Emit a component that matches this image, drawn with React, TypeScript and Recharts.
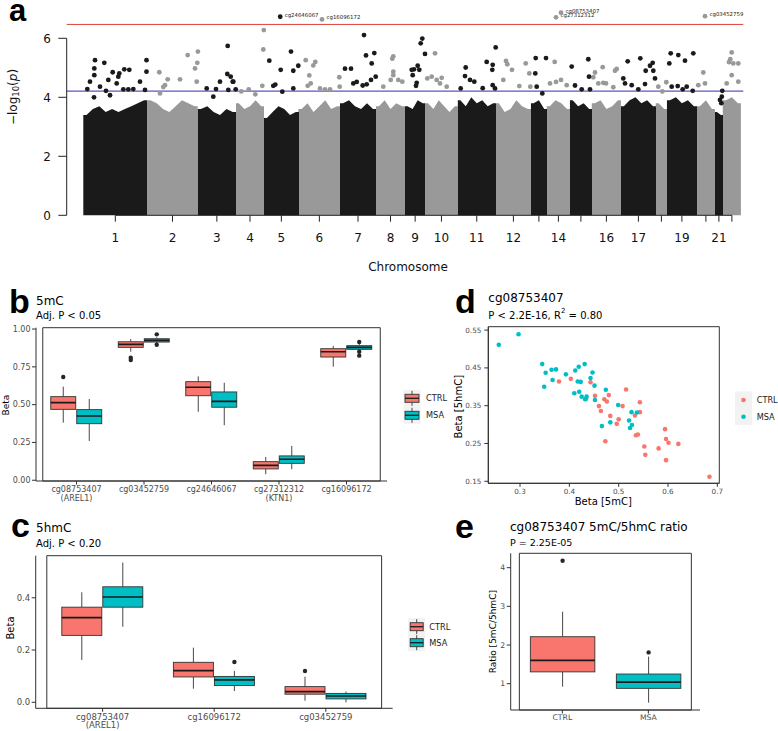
import React from "react";
import {
  ComposedChart,
  Area,
  Scatter,
  ScatterChart,
  BarChart,
  Bar,
  XAxis,
  YAxis,
  ReferenceLine,
  ReferenceArea,
} from "recharts";

// ---------- panel a: Manhattan plot ----------
const chromosomes = [1, 2, 3, 4, 5, 6, 7, 8, 9, 10, 11, 12, 13, 14, 15, 16, 17, 18, 19, 20, 21, 22];
// relative probe span of every chromosome on the concatenated axis
const chromSizes = [64, 50.4, 38.3, 28, 34.7, 41.3, 36, 29, 20.3, 32.3, 38.3, 35, 16, 23, 22, 29, 35, 11, 30, 18, 8, 18];
const labelledChroms = [1, 2, 3, 4, 5, 6, 7, 8, 9, 10, 11, 12, 14, 16, 17, 19, 21];
// upper edge of the dense cloud of probes, read along each chromosome
const bodyTops = [
  [3.4, 3.6, 3.7, 3.5, 3.6, 3.5, 3.6, 3.7, 3.8, 3.9],
  [3.9, 3.8, 3.6, 3.5, 3.7, 3.9, 3.8, 3.7],
  [3.6, 3.7, 3.5, 3.4, 3.6, 3.5],
  [3.8, 3.6, 3.7, 3.9, 3.7],
  [3.3, 3.5, 3.7, 3.6, 3.4, 3.5],
  [3.6, 3.8, 3.5, 3.7, 3.9, 3.6, 3.7],
  [3.8, 3.9, 3.7, 3.6, 3.8, 3.6],
  [3.7, 3.9, 3.6, 3.8, 3.7],
  [3.7, 3.6, 3.9, 3.8],
  [3.8, 3.6, 3.9, 3.7, 3.5, 3.7],
  [3.9, 3.7, 4.0, 3.8, 3.9, 3.7, 3.8],
  [3.8, 3.5, 3.6, 3.9, 3.7, 3.6],
  [3.8, 3.9, 3.6],
  [3.7, 3.9, 3.8, 3.6],
  [3.9, 3.7, 3.8, 3.6],
  [3.8, 3.9, 3.6, 3.7, 3.9],
  [3.7, 3.9, 4.0, 3.8, 3.9, 3.7],
  [3.8, 3.6],
  [3.9, 4.0, 3.8, 3.9, 3.7],
  [3.7, 3.9, 3.6],
  [3.5, 3.4],
  [3.9, 4.0, 3.8],
];
// [chromosome, position on genome axis, -log10(p)]
const topHits = [
  [1, 4, 4.28], [1, 6.7, 4.53], [1, 11.7, 5.26], [1, 11, 4.98], [1, 11, 4.75], [1, 21, 5.17], [1, 25, 4.59],
  [1, 29.4, 4.85], [1, 33.4, 4.47], [1, 35, 4.7], [1, 36, 4.81], [1, 41, 4.95], [1, 46, 4.93], [1, 63.2, 5.26],
  [1, 63.2, 4.87], [1, 56.7, 4.53], [1, 16.7, 4.36], [1, 40, 4.27], [1, 45, 4.27], [1, 50, 4.28], [1, 61.7, 4.25],
  [1, 22.7, 4.22], [1, 26.7, 4.07], [1, 10.7, 4.0],
  [2, 76, 4.85], [2, 84.4, 4.61], [2, 96.7, 4.61], [2, 104.4, 5.43], [2, 114.6, 5.55], [2, 114, 5.17],
  [2, 111.7, 4.98], [2, 113.4, 4.53], [2, 76.7, 4.13], [2, 81.7, 4.41], [2, 80, 4.35],
  [3, 144.4, 5.74], [3, 144, 4.79], [3, 147.4, 4.7], [3, 149.4, 4.53], [3, 136.7, 4.53], [3, 132.7, 4.28],
  [3, 150, 4.53], [3, 152.4, 4.27], [3, 123.4, 4.3], [3, 145, 4.25], [3, 130, 4.02],
  [4, 179, 4.39], [4, 165.4, 4.27], [4, 180.5, 6.28], [4, 180, 5.62], [4, 158, 4.2], [4, 172, 4.1],
  [5, 186, 5.24], [5, 207.7, 5.55], [5, 197.4, 4.93], [5, 210, 4.9], [5, 215, 5.07], [5, 210, 4.3],
  [5, 190, 4.39], [5, 192, 4.43], [5, 199, 4.19],
  [6, 222.4, 5.26], [6, 232, 5.2], [6, 230, 5.08], [6, 226, 4.74], [6, 227.4, 4.47], [6, 224.4, 4.39],
  [6, 236.7, 4.3], [6, 241.7, 4.27], [6, 246.7, 4.27], [6, 256, 4.68], [6, 256.4, 4.36],
  [7, 280.7, 6.11], [7, 282.7, 5.42], [7, 291, 5.5], [7, 288.4, 5.15], [7, 261.7, 4.97], [7, 267.7, 4.97],
  [7, 292.4, 4.7], [7, 287.7, 4.59], [7, 270, 4.47], [7, 273.4, 4.52], [7, 279.4, 4.4], [7, 283.4, 4.44],
  [8, 310, 5.39], [8, 309, 5.31], [8, 310, 4.87], [8, 310, 4.75], [8, 307.4, 4.59], [8, 315, 4.59],
  [8, 319, 4.53], [8, 300, 4.36],
  [9, 339, 5.99], [9, 337.4, 5.83], [9, 341.7, 5.47], [9, 334.4, 5.07], [9, 330.7, 4.95], [9, 328.4, 4.93],
  [9, 336, 4.93], [9, 329.4, 4.75], [9, 333.4, 4.49], [9, 332.7, 4.39],
  [10, 351.7, 5.49], [10, 348.4, 4.7], [10, 353.4, 4.59], [10, 358.4, 4.66], [10, 356.7, 4.47],
  [10, 363.4, 4.36], [10, 344, 4.64],
  [11, 382.4, 5.01], [11, 381.7, 4.72], [11, 386.7, 4.59], [11, 377.4, 4.3], [11, 412.4, 5.69],
  [11, 403.4, 5.2], [11, 409.4, 5.1], [11, 409, 4.93], [11, 391, 4.53], [11, 399.4, 4.31], [11, 409.4, 4.41],
  [11, 411.7, 4.3],
  [12, 422.7, 5.23], [12, 424, 5.12], [12, 428.7, 4.93], [12, 442.4, 5.15], [12, 446, 4.81], [12, 436, 4.38],
  [12, 420, 4.59], [12, 447, 4.36],
  [13, 452.4, 5.33], [13, 462.7, 5.33], [13, 452, 4.81], [13, 453.4, 4.36], [13, 459, 4.13],
  [14, 471.4, 5.2], [14, 466.7, 4.47], [14, 472.7, 4.52], [14, 477.7, 4.59], [14, 483.4, 4.41],
  [15, 488.4, 5.04], [15, 505, 5.29], [15, 505.7, 4.7], [15, 491.7, 4.4], [15, 498.4, 4.27], [15, 506.7, 4.27],
  [16, 511.7, 4.84], [16, 515, 4.47], [16, 520, 4.49], [16, 519.4, 5.02], [16, 531.7, 4.9], [16, 533.4, 4.96],
  [16, 510, 4.68], [16, 522.7, 4.47], [16, 530, 4.34],
  [17, 544.4, 5.22], [17, 557, 5.32], [17, 569.4, 5.17], [17, 566.7, 5.07], [17, 562.4, 4.9], [17, 570, 4.9],
  [17, 540, 4.64], [17, 571.7, 4.64], [17, 541.7, 4.47], [17, 548.4, 4.41], [17, 561.7, 4.45], [17, 555, 4.27],
  [18, 583, 4.51], [18, 575, 4.36], [18, 579, 4.2],
  [19, 587.4, 5.49], [19, 595, 5.43], [19, 610, 5.49], [19, 586, 5.15], [19, 601.7, 5.24], [19, 588.4, 4.36],
  [19, 594.4, 4.38], [19, 599.4, 4.27], [19, 603.4, 4.36], [19, 609.4, 4.22],
  [20, 620, 4.84], [20, 615, 4.41], [20, 621.7, 4.47],
  [21, 638.5, 4.02], [21, 636.7, 3.91], [21, 639, 4.22], [21, 638, 3.8],
  [22, 648.4, 5.52], [22, 647, 5.29], [22, 650, 5.15], [22, 648.4, 4.75], [22, 643.4, 4.47], [22, 655, 4.53],
  [22, 645.7, 5.19], [22, 655, 5.15],
];
const annotatedHits = [
  { name: "cg24646067", chr: 5, pos: 196.9, p: 6.73 },
  { name: "cg16096172", chr: 6, pos: 238.7, p: 6.64 },
  { name: "cg27312312", chr: 14, pos: 472.7, p: 6.71 },
  { name: "cg08753407", chr: 14, pos: 477.7, p: 6.87 },
  { name: "cg03452759", chr: 20, pos: 621.7, p: 6.75 },
];
const genomeWideLine = 6.47;
const suggestiveLine = 4.21;

// ---------- panel b: 5mC boxplots [min, q1, median, q3, max] ----------
const probes5mC = ["cg08753407", "cg03452759", "cg24646067", "cg27312312", "cg16096172"];
const genes5mC = ["AREL1", "", "", "KTN1", ""];
const ctrl5mC = [
  [0.381, 0.469, 0.513, 0.553, 0.619],
  [0.85, 0.879, 0.899, 0.916, 0.934],
  [0.453, 0.559, 0.615, 0.652, 0.687],
  [0.04, 0.075, 0.099, 0.123, 0.154],
  [0.751, 0.815, 0.85, 0.87, 0.888],
];
const msa5mC = [
  [0.26, 0.374, 0.425, 0.467, 0.537],
  [0.905, 0.914, 0.925, 0.936, 0.945],
  [0.364, 0.483, 0.522, 0.584, 0.645],
  [0.073, 0.112, 0.139, 0.161, 0.227],
  [0.857, 0.866, 0.879, 0.89, 0.9],
];
const ctrl5mCOutliers = [[0.683], [0.81, 0.795], [], [], []];
const msa5mCOutliers = [[], [0.965, 0.896], [], [], [0.914, 0.85, 0.824]];

// ---------- panel c: 5hmC boxplots ----------
const probes5hmC = ["cg08753407", "cg16096172", "cg03452759"];
const genes5hmC = ["AREL1", "", ""];
const ctrl5hmC = [
  [0.162, 0.256, 0.324, 0.364, 0.421],
  [0.052, 0.097, 0.121, 0.153, 0.209],
  [0.006, 0.031, 0.041, 0.06, 0.098],
];
const msa5hmC = [
  [0.289, 0.364, 0.403, 0.442, 0.535],
  [0.043, 0.064, 0.086, 0.099, 0.12],
  [0.0, 0.013, 0.024, 0.034, 0.041],
];
const ctrl5hmCOutliers = [[], [], [0.12]];
const msa5hmCOutliers = [[], [0.154], []];

// ---------- panel d: cg08753407 5mC vs 5hmC ----------
const ctrlBeta5mC = [0.379, 0.403, 0.443, 0.434, 0.452, 0.46, 0.464, 0.471, 0.476, 0.48, 0.483, 0.5, 0.496, 0.508, 0.515,
  0.473, 0.543, 0.543, 0.533, 0.535, 0.539, 0.552, 0.554, 0.581, 0.594, 0.596, 0.601, 0.596, 0.621, 0.684];
const ctrlBeta5hmC = [0.414, 0.421, 0.412, 0.368, 0.376, 0.349, 0.336, 0.367, 0.361, 0.378, 0.323, 0.314, 0.302, 0.349, 0.393,
  0.256, 0.359, 0.333, 0.324, 0.272, 0.274, 0.242, 0.22, 0.237, 0.288, 0.262, 0.252, 0.206, 0.249, 0.162];
const msaBeta5mC = [0.257, 0.297, 0.345, 0.352, 0.349, 0.364, 0.373, 0.366, 0.393, 0.412, 0.419, 0.431, 0.417, 0.423, 0.41, 0.42,
  0.425, 0.435, 0.432, 0.443, 0.447, 0.451, 0.452, 0.474, 0.466, 0.483, 0.499, 0.526, 0.537, 0.521, 0.527, 0.523];
const msaBeta5hmC = [0.511, 0.539, 0.46, 0.437, 0.4, 0.445, 0.446, 0.418, 0.433, 0.443, 0.453, 0.46, 0.414, 0.413, 0.383, 0.387,
  0.374, 0.374, 0.367, 0.423, 0.438, 0.403, 0.365, 0.392, 0.296, 0.306, 0.352, 0.333, 0.332, 0.311, 0.299, 0.291];

// ---------- panel e: ratio ----------
const ratioGroups = ["CTRL", "MSA"];
const ratioStats = [
  [0.923, 1.306, 1.605, 2.215, 2.862],
  [0.51, 0.88, 1.043, 1.25, 1.7],
];
const ratioOutliers = [[4.18], [1.81]];

// ---------- styling ----------
const CTRL_COL = "#F8766D";
const MSA_COL = "#00BFC4";
const groupColors: Record<string, string> = { CTRL: CTRL_COL, MSA: MSA_COL };
const FONT = "DejaVu Sans";
const AXIS_TEXT = "#4d4d4d";
const BORDER = "#333333";

// ---------- derived tables ----------
const chromStart = chromSizes.map((_, i) => chromSizes.slice(0, i).reduce((a, b) => a + b, 0));
const genomeLength = chromSizes.reduce((a, b) => a + b, 0);
const chromCenters = chromSizes.map((s, i) => chromStart[i] + s / 2);

const bodyData: { pos: number; top: number }[] = [];
chromosomes.forEach((_, i) => {
  const tops = bodyTops[i];
  const s = chromStart[i];
  const len = chromSizes[i];
  bodyData.push({ pos: s, top: tops[0] });
  tops.forEach((t, j) => bodyData.push({ pos: s + ((j + 0.5) / tops.length) * len, top: t }));
  bodyData.push({ pos: s + len, top: tops[tops.length - 1] });
});

const hitRows = topHits.map(([chr, pos, p]) => ({ chr, pos, p }));
const oddHits = hitRows.filter((h) => h.chr % 2 === 1);
const evenHits = hitRows.filter((h) => h.chr % 2 === 0);

const box5mCData = probes5mC.map((probe, i) => ({
  probe,
  gene: genes5mC[i],
  ctrl: ctrl5mC[i],
  msa: msa5mC[i],
  ctrlOut: ctrl5mCOutliers[i],
  msaOut: msa5mCOutliers[i],
}));
const box5hmCData = probes5hmC.map((probe, i) => ({
  probe,
  gene: genes5hmC[i],
  ctrl: ctrl5hmC[i],
  msa: msa5hmC[i],
  ctrlOut: ctrl5hmCOutliers[i],
  msaOut: msa5hmCOutliers[i],
}));
const ratioData = ratioGroups.map((group, i) => ({ group, stats: ratioStats[i], out: ratioOutliers[i] }));
const ctrlPoints = ctrlBeta5mC.map((x, i) => ({ x, y: ctrlBeta5hmC[i] }));
const msaPoints = msaBeta5mC.map((x, i) => ({ x, y: msaBeta5hmC[i] }));

// box drawn inside the whisker-range bar; positions follow the bar's own scaling
const makeBoxShape = (statKey: string, outKey: string, fillFor: (p: any) => string) => (props: any) => {
  const { x, y, width, height, payload } = props;
  const s: number[] = payload[statKey];
  const out: number[] = payload[outKey] || [];
  const top = Math.min(y, y + height);
  const bottom = Math.max(y, y + height);
  const lo = s[0];
  const hi = s[4];
  const toY = (v: number) => bottom - ((v - lo) / (hi - lo)) * (bottom - top);
  const cx = x + width / 2;
  return (
    <g>
      <line x1={cx} x2={cx} y1={toY(s[4])} y2={toY(s[3])} stroke={BORDER} strokeWidth={0.9} />
      <line x1={cx} x2={cx} y1={toY(s[1])} y2={toY(s[0])} stroke={BORDER} strokeWidth={0.9} />
      <rect x={x} y={toY(s[3])} width={width} height={toY(s[1]) - toY(s[3])} fill={fillFor(payload)} stroke={BORDER} strokeWidth={0.9} />
      <line x1={x} x2={x + width} y1={toY(s[2])} y2={toY(s[2])} stroke="#1a1a1a" strokeWidth={1.7} />
      {out.map((v, i) => (
        <circle key={i} cx={cx} cy={toY(v)} r={2.2} fill="#262626" />
      ))}
    </g>
  );
};

const makeProbeTick = (fontSize: number, lineGap: number) => (props: any) => {
  const { x, y, payload, index } = props;
  const rows = props.rows as { gene: string }[];
  const gene = rows[index]?.gene;
  return (
    <text x={x} y={y} textAnchor="middle" fontSize={fontSize} fill={AXIS_TEXT} fontFamily={FONT}>
      <tspan x={x} dy="0.71em">{payload.value}</tspan>
      {gene ? (
        <tspan x={x} dy={lineGap}>
          ({gene})
        </tspan>
      ) : null}
    </text>
  );
};

const hitDot = (fill: string) => (props: any) => <circle cx={props.cx} cy={props.cy} r={2.4} fill={fill} />;
const annotatedDot = (props: any) => {
  const { cx, cy, payload } = props;
  return (
    <g>
      <circle cx={cx} cy={cy} r={2.4} fill={payload.chr % 2 === 1 ? "#1a1a1a" : "#999999"} />
      <text x={cx + 4.5} y={cy - 2} fontSize={5.4} fill="#222" fontFamily={FONT} dominantBaseline="central">
        {payload.name}
      </text>
    </g>
  );
};

const BoxKey = ({ x, y, fill, w }: { x: number; y: number; fill: string; w: number }) => (
  <g>
    <rect x={x - 8.5} y={y - 8.5} width={17} height={17} fill="#f2f2f2" />
    <line x1={x} x2={x} y1={y - 7.5} y2={y + 7.5} stroke={BORDER} strokeWidth={0.9} />
    <rect x={x - w / 2} y={y - 4} width={w} height={8} fill={fill} stroke={BORDER} strokeWidth={0.9} />
    <line x1={x - w / 2} x2={x + w / 2} y1={y} y2={y} stroke="#1a1a1a" strokeWidth={1.3} />
  </g>
);

const letterStyle: React.CSSProperties = {
  fontFamily: "Liberation Sans Narrow, Liberation Sans, Arial",
  fontWeight: 700,
};

const frame = { fill: "none", fillOpacity: 0, stroke: BORDER, strokeWidth: 1 };

const App: React.FC = () => {
  const tickA = { fontSize: 12, fill: "#111", fontFamily: FONT };
  const tickSmall = { fontSize: 8, fill: AXIS_TEXT, fontFamily: FONT };
  const probeTick5mC = makeProbeTick(8, 9.3);
  const probeTick5hmC = makeProbeTick(8.5, 8.6);

  return (
    <div style={{ position: "absolute", left: 0, top: 0, width: 778, height: 731, background: "#fff", fontFamily: FONT }}>
      {/* panel a */}
      <div style={{ position: "absolute", left: 0, top: 0 }}>
        <ComposedChart width={778} height={280} data={bodyData} margin={{ top: 8.8, right: 34.7, bottom: 0, left: 0 }}>
          <defs>
            <linearGradient id="chromFill" x1="0" y1="0" x2="1" y2="0">
              {chromosomes.map((c, i) => [
                <stop key={`a${c}`} offset={chromStart[i] / genomeLength} stopColor={c % 2 === 1 ? "#1a1a1a" : "#999999"} />,
                <stop key={`b${c}`} offset={(chromStart[i] + chromSizes[i]) / genomeLength} stopColor={c % 2 === 1 ? "#1a1a1a" : "#999999"} />,
              ])}
            </linearGradient>
          </defs>
          <XAxis
            dataKey="pos"
            type="number"
            domain={[-16.6, 660]}
            ticks={chromCenters}
            interval={0}
            tickFormatter={(_v: number, i: number) => (labelledChroms.includes(chromosomes[i]) ? String(chromosomes[i]) : "")}
            height={64.7}
            tickSize={6.4}
            tickMargin={11.4}
            axisLine={false}
            tickLine={{ stroke: "#222" }}
            tick={tickA}
          />
          <YAxis
            type="number"
            domain={[0, 7]}
            ticks={[0, 2, 4, 6]}
            width={66.7}
            tickSize={8.4}
            tickMargin={7.5}
            axisLine={false}
            tickLine={{ stroke: "#222" }}
            tick={tickA}
          />
          <Area dataKey="top" type="linear" stroke="none" fill="url(#chromFill)" fillOpacity={1} isAnimationActive={false} />
          <Scatter data={evenHits} dataKey="p" shape={hitDot("#999999")} isAnimationActive={false} />
          <Scatter data={oddHits} dataKey="p" shape={hitDot("#1a1a1a")} isAnimationActive={false} />
          <Scatter data={annotatedHits} dataKey="p" shape={annotatedDot} isAnimationActive={false} />
          <ReferenceLine y={genomeWideLine} stroke="#e0403a" strokeWidth={1} />
          <ReferenceLine y={suggestiveLine} stroke="#2e2eb4" strokeWidth={1} />
          <ReferenceLine segment={[{ x: -16.6, y: 0 }, { x: -16.6, y: 6 }]} stroke="#222" strokeWidth={1} />
          <ReferenceLine
            segment={[{ x: chromCenters[0], y: 0 }, { x: chromCenters[chromCenters.length - 1], y: 0 }]}
            stroke="#222"
            strokeWidth={1}
          />
        </ComposedChart>
      </div>

      {/* panel b */}
      <div style={{ position: "absolute", left: 0, top: 320 }}>
        <BarChart width={395} height={185} data={box5mCData} margin={{ top: 7.7, right: 8, bottom: 0, left: 0 }} barGap={1} barSize={25}>
          <XAxis
            dataKey="probe"
            height={24}
            padding={{ left: 6.75, right: 6.75 }}
            interval={0}
            tickSize={3.5}
            tickMargin={1.6}
            axisLine={{ stroke: BORDER }}
            tickLine={{ stroke: BORDER }}
            tick={(p: any) => probeTick5mC({ ...p, rows: box5mCData })}
          />
          <YAxis
            type="number"
            domain={[-0.005, 1.009]}
            allowDataOverflow
            ticks={[0, 0.25, 0.5, 0.75, 1]}
            tickFormatter={(v: number) => v.toFixed(2)}
            width={36}
            tickSize={4}
            tickMargin={1.5}
            axisLine={{ stroke: BORDER }}
            tickLine={{ stroke: BORDER }}
            tick={tickSmall}
          />
          <Bar dataKey={(d: any) => [d.ctrl[0], d.ctrl[4]]} shape={makeBoxShape("ctrl", "ctrlOut", () => CTRL_COL)} isAnimationActive={false} />
          <Bar dataKey={(d: any) => [d.msa[0], d.msa[4]]} shape={makeBoxShape("msa", "msaOut", () => MSA_COL)} isAnimationActive={false} />
          <ReferenceArea y1={-0.005} y2={1.009} {...frame} />
        </BarChart>
      </div>

      {/* panel c */}
      <div style={{ position: "absolute", left: 0, top: 545 }}>
        <BarChart width={400} height={186} data={box5hmCData} margin={{ top: 10.7, right: 7.3, bottom: 0, left: 0 }} barGap={1} barSize={40}>
          <XAxis
            dataKey="probe"
            height={22.7}
            padding={{ left: 11.1, right: 11.1 }}
            interval={0}
            tickSize={3.5}
            tickMargin={1.8}
            axisLine={{ stroke: BORDER }}
            tickLine={{ stroke: BORDER }}
            tick={(p: any) => probeTick5hmC({ ...p, rows: box5hmCData })}
          />
          <YAxis
            type="number"
            domain={[-0.023, 0.561]}
            allowDataOverflow
            ticks={[0, 0.2, 0.4]}
            tickFormatter={(v: number) => v.toFixed(1)}
            width={35.7}
            tickSize={4}
            tickMargin={1.5}
            axisLine={{ stroke: BORDER }}
            tickLine={{ stroke: BORDER }}
            tick={{ ...tickSmall, fontSize: 8.5 }}
          />
          <Bar dataKey={(d: any) => [d.ctrl[0], d.ctrl[4]]} shape={makeBoxShape("ctrl", "ctrlOut", () => CTRL_COL)} isAnimationActive={false} />
          <Bar dataKey={(d: any) => [d.msa[0], d.msa[4]]} shape={makeBoxShape("msa", "msaOut", () => MSA_COL)} isAnimationActive={false} />
          <ReferenceArea y1={-0.023} y2={0.561} {...frame} />
        </BarChart>
      </div>

      {/* panel d */}
      <div style={{ position: "absolute", left: 440, top: 320 }}>
        <ScatterChart width={285} height={185} margin={{ top: 6.7, right: 5.7, bottom: 0, left: 0 }}>
          <XAxis
            dataKey="x"
            type="number"
            domain={[0.2357, 0.704]}
            allowDataOverflow
            ticks={[0.3, 0.4, 0.5, 0.6, 0.7]}
            tickFormatter={(v: number) => v.toFixed(1)}
            height={21.7}
            tickSize={3.5}
            tickMargin={2.3}
            axisLine={{ stroke: BORDER }}
            tickLine={{ stroke: BORDER }}
            tick={{ ...tickSmall, fontSize: 7.2 }}
          />
          <YAxis
            dataKey="y"
            type="number"
            domain={[0.1447, 0.559]}
            allowDataOverflow
            ticks={[0.15, 0.25, 0.35, 0.45, 0.55]}
            tickFormatter={(v: number) => v.toFixed(2)}
            width={48.3}
            tickSize={4}
            tickMargin={3}
            axisLine={{ stroke: BORDER }}
            tickLine={{ stroke: BORDER }}
            tick={{ ...tickSmall, fontSize: 7.2 }}
          />
          <Scatter data={ctrlPoints} fill={CTRL_COL} shape={(p: any) => <circle cx={p.cx} cy={p.cy} r={2.3} fill={CTRL_COL} />} isAnimationActive={false} />
          <Scatter data={msaPoints} fill={MSA_COL} shape={(p: any) => <circle cx={p.cx} cy={p.cy} r={2.3} fill={MSA_COL} />} isAnimationActive={false} />
          <ReferenceArea x1={0.2357} x2={0.704} y1={0.1447} y2={0.559} {...frame} />
        </ScatterChart>
      </div>

      {/* panel e */}
      <div style={{ position: "absolute", left: 460, top: 545 }}>
        <BarChart width={250} height={186} data={ratioData} margin={{ top: 8.3, right: 10, bottom: 0, left: 0 }} barSize={64.5}>
          <XAxis
            dataKey="group"
            height={21}
            padding={{ left: 8.65, right: 8.65 }}
            interval={0}
            tickSize={3.5}
            tickMargin={1.4}
            axisLine={{ stroke: BORDER }}
            tickLine={{ stroke: BORDER }}
            tick={{ ...tickSmall, fontSize: 7.7 }}
          />
          <YAxis
            type="number"
            domain={[0.32, 4.372]}
            allowDataOverflow
            ticks={[1, 2, 3, 4]}
            width={50.7}
            tickSize={4}
            tickMargin={1.5}
            axisLine={{ stroke: BORDER }}
            tickLine={{ stroke: BORDER }}
            tick={{ ...tickSmall, fontSize: 7.7 }}
          />
          <Bar
            dataKey={(d: any) => [d.stats[0], d.stats[4]]}
            shape={makeBoxShape("stats", "out", (p: any) => groupColors[p.group])}
            isAnimationActive={false}
          />
          <ReferenceArea y1={0.32} y2={4.372} {...frame} />
        </BarChart>
      </div>

      {/* titles, axis titles and legends */}
      <svg width={778} height={731} style={{ position: "absolute", left: 0, top: 0, pointerEvents: "none" }} fontFamily={FONT}>
        <text x={9} y={21} fontSize={31} style={letterStyle}>a</text>
        <text x={13.3} y={97} fontSize={12} textAnchor="middle" dominantBaseline="central" transform="rotate(-90 13.3 97)" fill="#111">
          −log<tspan fontSize={8.5} dy={3}>10</tspan>
          <tspan dy={-3}>(</tspan>
          <tspan fontStyle="italic">p</tspan>)
        </text>
        <text x={408} y={266.7} fontSize={12} textAnchor="middle" dominantBaseline="central" fill="#111">Chromosome</text>

        <text x={9} y={313} fontSize={34} style={letterStyle}>b</text>
        <text x={36} y={300.7} fontSize={12} dominantBaseline="central">5mC</text>
        <text x={36} y={315} fontSize={10} dominantBaseline="central">Adj. P &lt; 0.05</text>
        <text x={6} y={405} fontSize={9} textAnchor="middle" dominantBaseline="central" transform="rotate(-90 6 405)">Beta</text>
        <BoxKey x={412} y={398.3} fill={CTRL_COL} w={14} />
        <BoxKey x={412} y={415.3} fill={MSA_COL} w={14} />
        <text x={426} y={398.3} fontSize={8.2} dominantBaseline="central" fill="#222">CTRL</text>
        <text x={426} y={415.3} fontSize={8.2} dominantBaseline="central" fill="#222">MSA</text>

        <text x={11} y={537} fontSize={34} style={letterStyle}>c</text>
        <text x={36} y={528.3} fontSize={12} dominantBaseline="central">5hmC</text>
        <text x={36} y={543.3} fontSize={10} dominantBaseline="central">Adj. P &lt; 0.20</text>
        <text x={10} y={628} fontSize={10} textAnchor="middle" dominantBaseline="central" transform="rotate(-90 10 628)">Beta</text>
        <BoxKey x={416.7} y={626.7} fill={CTRL_COL} w={13} />
        <BoxKey x={416.7} y={642.7} fill={MSA_COL} w={13} />
        <text x={429.3} y={626.7} fontSize={8.2} dominantBaseline="central" fill="#222">CTRL</text>
        <text x={429.3} y={642.7} fontSize={8.2} dominantBaseline="central" fill="#222">MSA</text>

        <text x={455} y={313} fontSize={34} style={letterStyle}>d</text>
        <text x={488.3} y={298.3} fontSize={12} dominantBaseline="central">cg08753407</text>
        <text x={488.3} y={315} fontSize={10} dominantBaseline="central">
          P &lt; 2.2E-16, R<tspan fontSize={7} dy={-4}>2</tspan>
          <tspan dy={4}> = 0.80</tspan>
        </text>
        <text x={603.3} y={501.7} fontSize={10} textAnchor="middle" dominantBaseline="central">Beta [5mC]</text>
        <text x={459} y={406.7} fontSize={10} textAnchor="middle" dominantBaseline="central" transform="rotate(-90 459 406.7)">
          Beta [5hmC]
        </text>
        <rect x={735} y={391.5} width={17} height={17} fill="#f2f2f2" />
        <rect x={735} y={408.2} width={17} height={17} fill="#f2f2f2" />
        <circle cx={743.5} cy={400} r={2.3} fill={CTRL_COL} />
        <circle cx={743.5} cy={416.7} r={2.3} fill={MSA_COL} />
        <text x={756.7} y={400} fontSize={8.2} dominantBaseline="central" fill="#222">CTRL</text>
        <text x={756.7} y={416.7} fontSize={8.2} dominantBaseline="central" fill="#222">MSA</text>

        <text x={455} y={538} fontSize={34} style={letterStyle}>e</text>
        <text x={510} y={527.3} fontSize={12} dominantBaseline="central">cg08753407 5mC/5hmC ratio</text>
        <text x={510} y={542.7} fontSize={9.5} dominantBaseline="central">P = 2.25E-05</text>
        <text x={493.3} y={631.7} fontSize={9} textAnchor="middle" dominantBaseline="central" transform="rotate(-90 493.3 631.7)">
          Ratio [5mC/5hmC]
        </text>
      </svg>
    </div>
  );
};

export default App;
